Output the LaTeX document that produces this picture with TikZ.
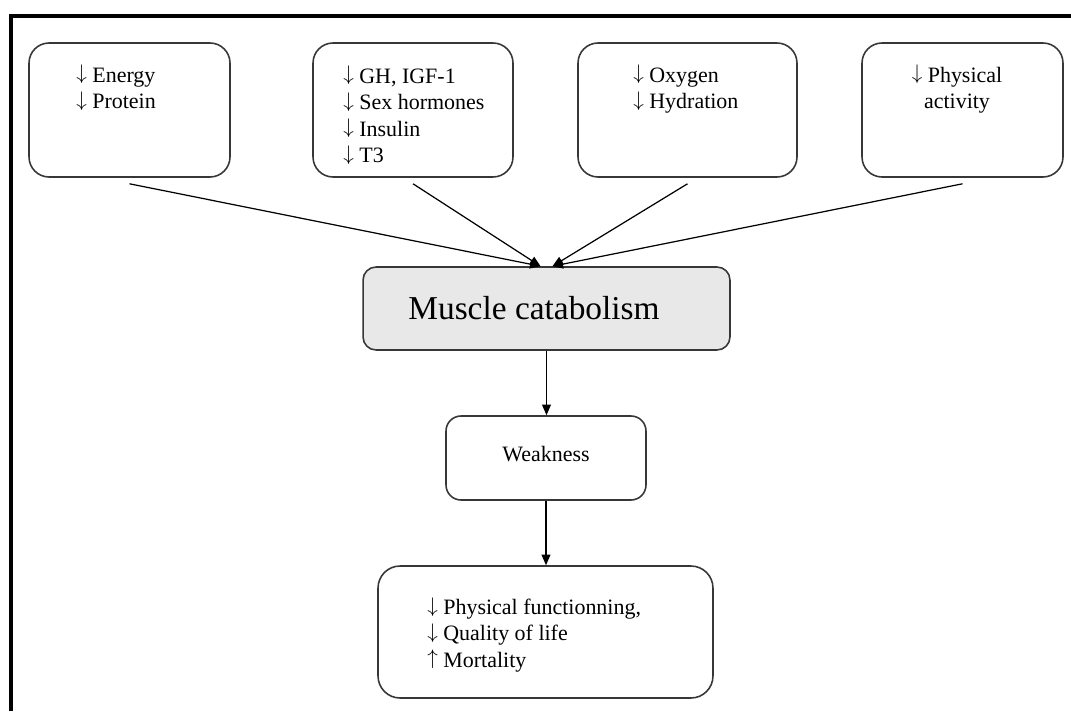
\documentclass[tikz,border=0pt]{standalone}
\usepackage{fontspec}
\setmainfont{Liberation Serif}
\usepackage{tikz}
\usetikzlibrary{arrows.meta}
\definecolor{mcgray}{RGB}{232,232,232}
\definecolor{boxline}{RGB}{55,55,55}
\newcommand{\dnarr}{\raisebox{0.12em}{$\downarrow$}}
\newcommand{\uparr}{\raisebox{0.12em}{$\uparrow$}}

\begin{document}
\begin{tikzpicture}[x=0.02cm, y=-0.02cm, >={Triangle[length=6pt,width=5pt]},
    every node/.style={font=\fontsize{12.5}{15}\selectfont},
    box/.style={draw=boxline, line width=0.9pt, rounded corners=0.4cm},
    txt/.style={anchor=north west, align=left, inner sep=0pt},
    conn/.style={black, line width=0.7pt}]
    \useasboundingbox (0,0) rectangle (1071,713);
    % frame
    \draw[line width=2.2pt] (11,711) -- (11,16) -- (1071,16);

    % causes
    \node[box, minimum width=4.02cm, minimum height=2.68cm] (energy) at (129.5,110) {};
    \node[txt] (energytxt) at (76,65) {\dnarr{} Energy\\\dnarr{} Protein};

    \node[box, minimum width=4.0cm, minimum height=2.68cm] (hormones) at (413,110) {};
    \node[txt] (hormonestxt) at (343,66) {\dnarr{} GH, IGF-1\\\dnarr{} Sex hormones\\\dnarr{} Insulin\\\dnarr{} T3};

    \node[box, minimum width=4.38cm, minimum height=2.68cm] (oxygen) at (687.5,110) {};
    \node[txt] (oxygentxt) at (633,65) {\dnarr{} Oxygen\\\dnarr{} Hydration};

    \node[box, minimum width=4.02cm, minimum height=2.68cm] (activity) at (962.5,110) {};
    \node[txt, anchor=north, align=center] (activitytxt) at (957,65) {\dnarr{} Physical\\activity};

    % center
    \node[box, fill=mcgray, rounded corners=0.26cm, minimum width=7.34cm, minimum height=1.66cm,
        font=\fontsize{19}{22}\selectfont] (musc) at (546.5,308.5) {Muscle catabolism\kern0.5cm};

    \node[box, rounded corners=0.3cm, minimum width=4.0cm, minimum height=1.68cm] (weak) at (546,458) {\raisebox{0.15cm}{Weakness}};

    \node[box, rounded corners=0.44cm, minimum width=6.7cm, minimum height=2.64cm] (outcome) at (545.5,632) {};
    \node[txt] (outcometxt) at (427,597) {\dnarr{} Physical functionning,\\\dnarr{} Quality of life\\\uparr{} Mortality};

    % arrows
    \draw[conn, ->] ([yshift=-0.12cm]energy.south) -- ([xshift=-0.12cm]musc.north);
    \draw[conn, ->] ([yshift=-0.12cm]hormones.south) -- ([xshift=-0.12cm]musc.north);
    \draw[conn, ->] ([yshift=-0.12cm]oxygen.south) -- ([xshift=0.12cm]musc.north);
    \draw[conn, ->] ([yshift=-0.12cm]activity.south) -- ([xshift=0.12cm]musc.north);

    \draw[conn, ->] (musc.south) -- (musc.south |- weak.north);
    \draw[conn, ->] (weak.south) -- (weak.south |- outcome.north);
\end{tikzpicture}
\end{document}
